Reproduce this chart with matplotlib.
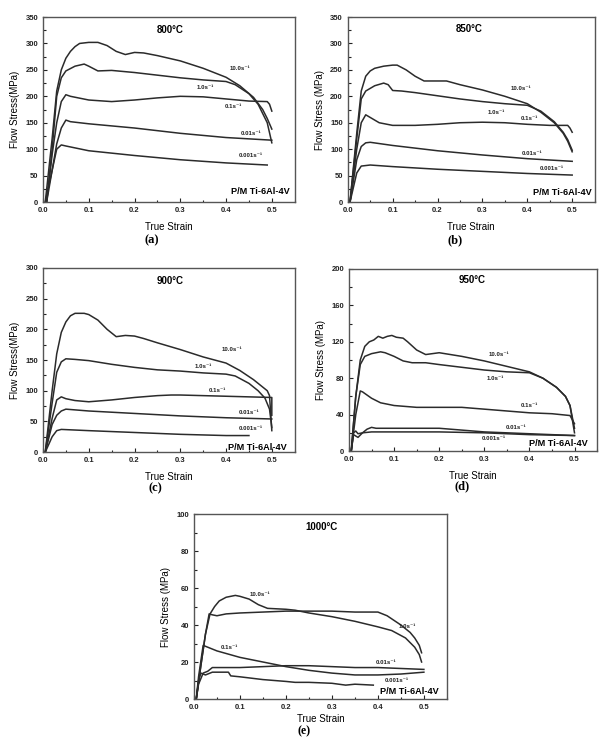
import matplotlib
matplotlib.use("Agg")
import matplotlib.pyplot as plt
from matplotlib.ticker import MultipleLocator

plt.rcParams['font.family'] = ['Liberation Sans', 'DejaVu Sans']
plt.rcParams['font.weight'] = 'bold'

rate_labels = ["10.0s⁻¹", "1.0s⁻¹", "0.1s⁻¹", "0.01s⁻¹", "0.001s⁻¹"]
temps = ["800°C", "850°C", "900°C", "950°C", "1000°C"]
panel_tags = ["(a)", "(b)", "(c)", "(d)", "(e)"]
ylabels = ["Flow Stress(MPa)", "Flow Stress (MPa)", "Flow Stress(MPa)",
           "Flow Stress (MPa)", "Flow Stress (MPa)"]
y_max = [350, 350, 300, 200, 100]
y_step = [50, 50, 50, 40, 20]

# ---- 800 C : (strain, stress) ----
c800_10 = [(0.005,0),(0.02,120),(0.03,210),(0.04,250),(0.05,272),(0.06,285),(0.07,294),(0.08,300),
           (0.1,302),(0.12,302),(0.14,296),(0.16,285),(0.18,279),(0.2,283),(0.22,282),(0.25,277),
           (0.3,267),(0.35,253),(0.4,236),(0.43,220),(0.46,198),(0.48,175),(0.49,158),(0.5,138)]
c800_1 = [(0.008,0),(0.02,100),(0.03,200),(0.04,235),(0.05,248),(0.07,257),(0.09,261),(0.1,257),
          (0.12,248),(0.15,249),(0.2,245),(0.3,235),(0.35,231),(0.4,228),(0.42,222),(0.45,205),
          (0.47,185),(0.49,150),(0.5,112)]
c800_01 = [(0.008,0),(0.02,90),(0.03,150),(0.04,190),(0.05,203),(0.06,200),(0.1,193),(0.15,190),
           (0.2,193),(0.25,197),(0.3,200),(0.35,199),(0.4,195),(0.45,191),(0.49,190),(0.495,185),(0.5,172)]
c800_001 = [(0.008,0),(0.02,60),(0.03,110),(0.04,140),(0.05,155),(0.06,152),(0.1,148),(0.2,140),
            (0.3,130),(0.4,122),(0.5,117)]
c800_0001 = [(0.005,0),(0.02,60),(0.03,100),(0.04,108),(0.05,106),(0.1,97),(0.2,88),(0.3,80),
             (0.4,74),(0.49,70)]

# ---- 850 C ----
c850_10 = [(0.005,0),(0.02,130),(0.03,210),(0.04,238),(0.05,248),(0.06,253),(0.08,257),(0.1,259),
           (0.11,259),(0.13,250),(0.15,238),(0.17,229),(0.2,229),(0.22,229),(0.25,222),(0.3,212),
           (0.35,200),(0.4,186),(0.43,170),(0.46,150),(0.48,130),(0.49,115),(0.5,95)]
c850_1 = [(0.005,0),(0.02,120),(0.03,195),(0.04,210),(0.06,220),(0.08,225),(0.09,222),(0.1,211),
          (0.12,210),(0.15,207),(0.2,201),(0.25,195),(0.3,190),(0.35,186),(0.4,183),(0.43,172),
          (0.46,152),(0.48,132),(0.49,118),(0.5,98)]
c850_01 = [(0.005,0),(0.02,100),(0.03,150),(0.04,165),(0.05,160),(0.07,150),(0.1,145),(0.15,145),
           (0.2,147),(0.25,150),(0.3,151),(0.35,150),(0.4,147),(0.45,145),(0.49,145),(0.495,140),(0.5,132)]
c850_001 = [(0.005,0),(0.02,80),(0.03,105),(0.04,112),(0.05,113),(0.1,107),(0.2,97),(0.3,89),
            (0.4,82),(0.5,77)]
c850_0001 = [(0.005,0),(0.02,55),(0.03,68),(0.05,70),(0.1,67),(0.2,62),(0.3,58),(0.4,54),(0.5,51)]

# ---- 900 C ----
c900_10 = [(0.005,0),(0.02,100),(0.03,160),(0.04,195),(0.05,212),(0.06,222),(0.07,226),(0.09,226),
           (0.1,224),(0.12,215),(0.14,200),(0.16,188),(0.18,190),(0.2,189),(0.22,185),(0.25,178),
           (0.3,167),(0.35,155),(0.4,145),(0.43,133),(0.46,118),(0.48,106),(0.49,100),(0.495,92),(0.5,35)]
c900_1 = [(0.005,0),(0.02,80),(0.03,130),(0.04,147),(0.05,152),(0.07,151),(0.1,149),(0.15,143),
          (0.2,138),(0.25,134),(0.3,132),(0.35,129),(0.4,127),(0.42,124),(0.45,112),(0.47,100),
          (0.485,88),(0.495,70),(0.5,40)]
c900_01 = [(0.005,0),(0.02,55),(0.03,85),(0.04,90),(0.05,87),(0.07,84),(0.1,82),(0.15,85),(0.2,89),
           (0.25,92),(0.28,93),(0.3,93),(0.35,92),(0.4,91),(0.45,90),(0.5,89),(0.5,60)]
c900_001 = [(0.005,0),(0.02,45),(0.03,60),(0.04,67),(0.05,70),(0.1,67),(0.2,63),(0.3,59),(0.4,56),(0.5,54)]
c900_0001 = [(0.005,0),(0.02,25),(0.03,35),(0.04,37),(0.1,35),(0.2,32),(0.3,29),(0.4,27),(0.45,27)]

# ---- 950 C ----
c950_10 = [(0.005,0),(0.015,60),(0.025,100),(0.035,115),(0.045,120),(0.055,122),(0.065,126),
           (0.075,124),(0.085,126),(0.095,127),(0.105,125),(0.12,124),(0.13,120),(0.15,111),
           (0.17,106),(0.2,108),(0.25,104),(0.3,99),(0.35,93),(0.4,87),(0.43,80),(0.46,70),
           (0.48,60),(0.49,50),(0.5,25)]
c950_1 = [(0.005,0),(0.015,60),(0.025,95),(0.035,104),(0.05,107),(0.07,109),(0.08,108),(0.1,104),
          (0.12,99),(0.14,97),(0.17,97),(0.2,95),(0.25,92),(0.3,89),(0.35,87),(0.4,86),(0.43,80),
          (0.46,70),(0.48,60),(0.49,50),(0.5,20)]
c950_01 = [(0.005,0),(0.015,40),(0.025,66),(0.03,65),(0.05,58),(0.07,53),(0.1,50),(0.15,48),(0.2,48),
           (0.25,48),(0.3,46),(0.35,44),(0.4,42),(0.45,41),(0.49,39),(0.5,30)]
c950_001 = [(0.005,0),(0.01,18),(0.02,15),(0.03,20),(0.04,24),(0.05,26),(0.06,25),(0.08,25),(0.1,25),
            (0.15,25),(0.2,25),(0.25,23),(0.3,21),(0.35,20),(0.4,19),(0.45,18),(0.5,17)]
c950_0001 = [(0.005,0),(0.01,20),(0.015,22),(0.02,19),(0.03,20),(0.05,21),(0.1,21),(0.2,21),(0.3,20),
             (0.4,18),(0.5,17)]

# ---- 1000 C ----
c1000_10 = [(0.005,0),(0.015,18),(0.025,35),(0.035,46),(0.045,50),(0.055,53),(0.07,55),(0.09,56),
            (0.1,55.5),(0.12,54),(0.14,51),(0.16,49),(0.2,48.5),(0.22,48),(0.25,46.5),(0.3,44.5),
            (0.35,42),(0.4,39),(0.43,37),(0.46,33),(0.48,28),(0.49,24),(0.495,20)]
c1000_1 = [(0.005,0),(0.015,18),(0.025,35),(0.033,46),(0.04,45.5),(0.05,45),(0.07,46),(0.1,46.5),
           (0.15,47),(0.2,47.5),(0.25,47.5),(0.3,47.5),(0.35,47),(0.4,47),(0.42,45),(0.45,40),
           (0.47,36),(0.48,33),(0.49,29),(0.495,25)]
c1000_01 = [(0.005,0),(0.01,12),(0.02,29),(0.03,28),(0.05,26),(0.1,22.5),(0.15,20),(0.2,17.5),
            (0.25,15.5),(0.3,14),(0.35,13),(0.4,13),(0.45,13.5),(0.5,14.5)]
c1000_001 = [(0.005,0),(0.01,8),(0.02,14),(0.03,15),(0.04,17),(0.05,17),(0.1,17),(0.15,17.5),(0.2,18),
             (0.25,18),(0.3,17.5),(0.35,17),(0.4,17),(0.45,16.5),(0.5,16)]
c1000_0001 = [(0.005,0),(0.01,10),(0.015,14),(0.025,13),(0.04,14.5),(0.06,14.5),(0.075,14.5),(0.08,12.5),
              (0.1,12),(0.15,10.5),(0.2,9.5),(0.22,9),(0.25,9),(0.3,8.5),(0.33,7.5),(0.35,8),(0.39,7.5)]

curves = [
    [c800_10, c800_1, c800_01, c800_001, c800_0001],
    [c850_10, c850_1, c850_01, c850_001, c850_0001],
    [c900_10, c900_1, c900_01, c900_001, c900_0001],
    [c950_10, c950_1, c950_01, c950_001, c950_0001],
    [c1000_10, c1000_1, c1000_01, c1000_001, c1000_0001],
]

# label positions (strain, stress) for each rate label
label_pos = [
    [(0.43,252),(0.355,217),(0.415,180),(0.455,129),(0.455,88)],
    [(0.385,215),(0.33,170),(0.405,158),(0.41,92),(0.455,63)],
    [(0.413,167),(0.35,139),(0.38,101),(0.45,65),(0.455,38)],
    [(0.333,106),(0.325,80),(0.40,50),(0.37,25.6),(0.32,14)],
    [(0.144,56.7),(0.465,39),(0.077,28),(0.418,19.7),(0.44,10)],
]
temp_pos = [(0.277,325),(0.27,327),(0.277,278),(0.273,188),(0.278,93)]
pm_pos = [(0.979,0.058),(0.99,0.053),(0.967,0.024),(0.964,0.042),(0.967,0.043)]

# axes rectangles (fig fraction) and panel tag positions
rects = [
    [0.0707, 0.727, 0.414, 0.250],
    [0.572, 0.727, 0.406, 0.250],
    [0.0707, 0.389, 0.414, 0.249],
    [0.574, 0.3905, 0.408, 0.246],
    [0.319, 0.0554, 0.416, 0.250],
]
tag_xy = [(152, 240), (455, 240), (155, 488), (462, 486), (304, 731.5)]
tag_size = [9, 9, 9, 9, 8.5]
xlabel_pad = [6, 6, 6, 6, 2.5]

fig = plt.figure(figsize=(6.08, 7.40), dpi=100)
lc = '#2b2b2b'
for i in range(5):
    ax = fig.add_axes(rects[i])
    for c in curves[i]:
        xs = [p[0] for p in c]
        ys = [p[1] for p in c]
        ax.plot(xs, ys, color=lc, lw=1.1)
    for (lx, ly), lab in zip(label_pos[i], rate_labels):
        ax.text(lx, ly, lab, fontsize=4.4, ha='center', va='center', color='#222222')
    ax.text(temp_pos[i][0], temp_pos[i][1], temps[i], fontsize=7, ha='center', va='center')
    ax.text(pm_pos[i][0], pm_pos[i][1], "P/M Ti-6Al-4V", fontsize=6.6, ha='right', va='center',
            transform=ax.transAxes)
    ax.set_xlim(0, 0.55)
    ax.set_ylim(0, y_max[i])
    ax.xaxis.set_major_locator(MultipleLocator(0.1))
    ax.xaxis.set_minor_locator(MultipleLocator(0.05))
    ax.yaxis.set_major_locator(MultipleLocator(y_step[i]))
    ax.yaxis.set_minor_locator(MultipleLocator(y_step[i] / 2))
    ax.xaxis.set_major_formatter(matplotlib.ticker.FormatStrFormatter('%.1f'))
    ax.tick_params(which='both', direction='in', labelsize=5.5, colors='#222222', width=0.8)
    ax.tick_params(which='major', length=3)
    ax.tick_params(which='minor', length=1.8)
    for s in ax.spines.values():
        s.set_color('#555555')
        s.set_linewidth(1.0)
    ax.set_xlabel("True Strain", fontsize=7, labelpad=xlabel_pad[i])
    ax.set_ylabel(ylabels[i], fontsize=7, labelpad=4)
    fig.text(tag_xy[i][0] / 608, 1 - tag_xy[i][1] / 740, panel_tags[i], fontsize=tag_size[i],
             ha='center', va='center', family='Liberation Serif', weight='bold')

fig.savefig("out.png", dpi=100)
